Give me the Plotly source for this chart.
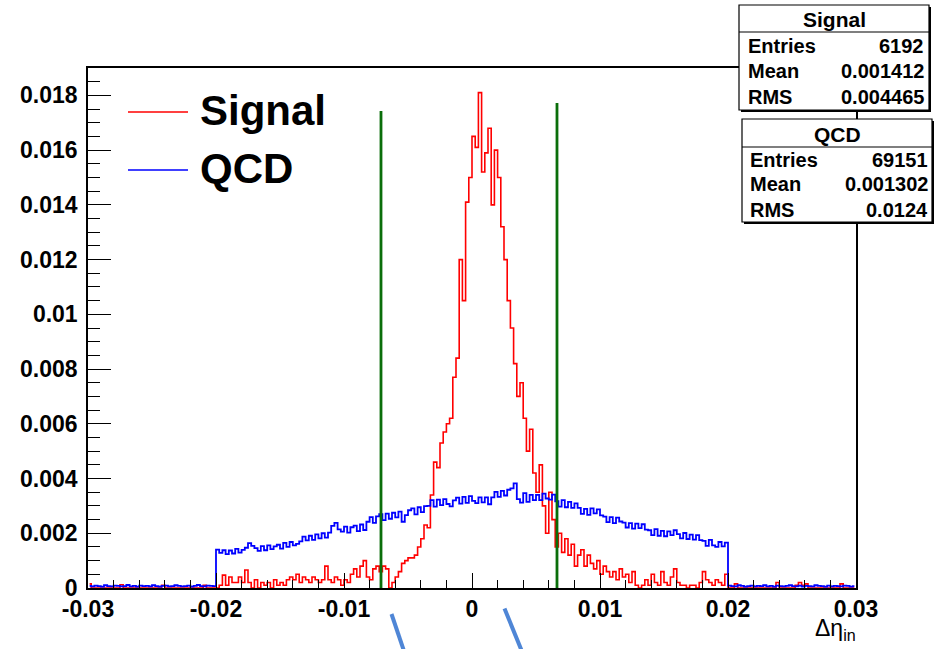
import numpy as np
import plotly.graph_objects as go

# ---------------- data ----------------
x_min, x_max, n_bins = -0.03, 0.03, 240

signal_vals = [
    0.00015,0,0,0,0,0,0,0,0,0, 0.00012,0,0,0,0,0,0,0,0,0,
    0,0,0,0.00010,0,0,0,0,0,0, 0,0,0,0,0,0,0.00010,0,0,0,
    0,0.00010,0.00047,0.00010,0.00040,0.00020,0.00020,0.00040,0.00020,0.00066,
    0.00020,0,0.00030,0,0.00020,0.00010,0.00020,0,0.00030,0.00010,
    0.00020,0.00010,0.00030,0.00040,0.00030,0.00050,0.00020,0.00040,0.00030,0.00020,
    0.00040,0.00030,0.00020,0.00030,0.00080,0.00030,0.00020,0.00040,0.00030,0.00010,
    0.00030,0.00020,0.00050,0.00070,0.00040,0.00080,0.00100,0.00040,0.00030,0.00070,
    0.00080,0.00060,0.00080,0.00070,0,0.00020,0.00040,0.00060,0.00090,0.00100,
    0.00110,0.00110,0.00120,0.00150,0.00180,0.00230,0.00220,0.00340,0.00460,0.00440,
    0.00530,0.00570,0.00600,0.00620,0.00770,0.00840,0.01200,0.01050,0.01410,0.01500,
    0.01650,0.01610,0.01810,0.01520,0.01590,0.01680,0.01400,0.01600,0.01500,0.01320,
    0.01200,0.01050,0.00950,0.00820,0.00700,0.00750,0.00620,0.00500,0.00580,0.00420,
    0.00350,0.00450,0.00300,0.00200,0.00350,0.00250,0.00150,0.00200,0.00130,0.00180,
    0.00120,0.00160,0.00080,0.00120,0.00140,0.00080,0.00120,0.00090,0.00070,0.00100,
    0.00050,0.00080,0.00060,0.00040,0.00060,0.00030,0.00070,0.00040,0.00050,0.00020,
    0.00060,0.00010,0,0.00010,0.00030,0.00010,0.00050,0.00020,0.00010,0.00060,
    0.00020,0.00010,0.00040,0.00070,0.00020,0.00010,0.00010,0,0.00010,0.00010,
    0,0.00020,0.00060,0.00030,0.00020,0.00010,0.00030,0.00020,0.00010,0.00050,
    0,0,0.00015,0,0,0,0,0,0,0, 0,0,0,0,0,0.00020,0,0,0,0,
    0,0.00010,0.00020,0.00010,0.00015,0,0,0,0,0, 0,0,0,0,0,0.00015,0,0,0,0,
]

qcd_vals = [
    0.00008,0.00006,0.00009,0.00007,0.00005,0.00010,0.00007,0.00006,0.00009,0.00008,
    0.00006,0.00007,0.00011,0.00006,0.00008,0.00005,0.00009,0.00007,0.00008,0.00006,
    0.00010,0.00007,0.00005,0.00008,0.00009,0.00006,0.00007,0.00010,0.00008,0.00006,
    0.00007,0.00009,0.00005,0.00008,0.00011,0.00007,0.00006,0.00009,0.00008,0.00007,
    0.00140,0.00128,0.00138,0.00124,0.00137,0.00126,0.00143,0.00129,0.00139,0.00147,
    0.00164,0.00154,
    0.00146,0.00136,0.00153,0.00138,0.00156,0.00142,0.00152,0.00158,0.00144,
    0.00165,0.00150,0.00168,0.00156,0.00161,
    0.00170,0.00188,0.00174,0.00191,0.00176,
    0.00196,0.00181,0.00200,0.00184,0.00202,
    0.00227,0.00238,0.00214,
    0.00206,0.00224,0.00202,0.00222,0.00228,0.00208,0.00232,0.00212,
    0.00242,0.00259,0.00238,0.00262,
    0.00270,0.00248,0.00272,0.00253,0.00275,0.00258,
    0.00279,0.00242,0.00266,0.00284,
    0.00291,0.00269,0.00295,0.00277,0.00299,
    0.00300,0.00321,0.00297,0.00323,0.00303,0.00325,0.00307,0.00298,
    0.00320,0.00330,0.00308,0.00333,0.00311,0.00336,0.00318,0.00310,
    0.00331,0.00313,0.00331,0.00306,
    0.00331,0.00351,0.00333,0.00355,0.00338,0.00359,0.00364,0.00382,
    0.00325,0.00312,0.00347,0.00315,0.00340,0.00321,
    0.00340,0.00321,0.00345,0.00327,0.00323,0.00341,
    0.00317,0.00297,0.00321,0.00295,0.00315,0.00293,0.00309,
    0.00293,0.00271,0.00289,0.00267,0.00291,0.00273,0.00287,0.00265,
    0.00261,0.00241,0.00259,0.00237,0.00257,0.00243,
    0.00239,0.00221,0.00237,0.00217,0.00235,0.00219,0.00233,0.00213,
    0.00211,0.00193,0.00215,0.00191,0.00209,0.00189,0.00207,0.00193,0.00211,
    0.00197,0.00181,0.00201,0.00179,0.00195,0.00177,0.00193,0.00175,
    0.00172,0.00154,0.00176,0.00156,0.00150,0.00168,0.00152,0.00166,
    0.00009,0.00007,0.00006,0.00010,0.00008,0.00005,0.00007,0.00009,0.00006,0.00008,
    0.00007,0.00010,0.00006,0.00008,0.00005,0.00009,0.00007,0.00006,0.00008,0.00010,
    0.00007,0.00006,0.00009,0.00005,0.00008,0.00007,0.00006,0.00010,0.00008,0.00007,
    0.00005,0.00009,0.00006,0.00008,0.00007,0.00006,0.00009,0.00008,0.00005,0.00007,
]

cut_x = [-0.00711, 0.00664]
cut_top = [0.01743, 0.01772]

x_tickvals = [-0.03, -0.02, -0.01, 0, 0.01, 0.02, 0.03]
x_ticktext = ["-0.03", "-0.02", "-0.01", "0", "0.01", "0.02", "0.03"]
y_tickvals = [0, 0.002, 0.004, 0.006, 0.008, 0.01, 0.012, 0.014, 0.016, 0.018]
y_ticktext = ["0", "0.002", "0.004", "0.006", "0.008", "0.01", "0.012", "0.014", "0.016", "0.018"]

stats_signal = [("Entries", "6192"), ("Mean", "0.001412"), ("RMS", "0.004465")]
stats_qcd = [("Entries", "69151"), ("Mean", "0.001302"), ("RMS", "0.0124")]

# ---------------- geometry ----------------
W, H = 937, 649
L, R, T, B = 88, 81, 68, 61
PW, PH = W - L - R, H - T - B

def px(xp):
    return (xp - L) / PW

def py(yp):
    return (H - B - yp) / PH

edges = np.linspace(x_min, x_max, n_bins + 1)
centers = 0.5 * (edges[:-1] + edges[1:])

FONT = "Liberation Sans, Arial, Helvetica, sans-serif"

fig = go.Figure()
fig.add_trace(go.Scatter(x=centers, y=signal_vals, mode="lines", line_shape="hvh",
                         line=dict(color="#ff0000", width=1.6), name="Signal", showlegend=False))
fig.add_trace(go.Scatter(x=centers, y=qcd_vals, mode="lines", line_shape="hvh",
                         line=dict(color="#0000ff", width=1.8), name="QCD", showlegend=False))
for cx, ct in zip(cut_x, cut_top):
    fig.add_trace(go.Scatter(x=[cx, cx], y=[0, ct], mode="lines",
                             line=dict(color="#0a6e0a", width=2.8), showlegend=False, hoverinfo="skip"))

shapes = []
annotations = []

# legend (manual)
for ycen, col, label in [(112, "#ff0000", "Signal"), (170, "#0000ff", "QCD")]:
    shapes.append(dict(type="line", xref="paper", yref="paper", x0=px(128), x1=px(188),
                       y0=py(ycen), y1=py(ycen), line=dict(color=col, width=1.5)))
    annotations.append(dict(xref="paper", yref="paper", x=px(198), y=py(ycen - 2), text=label,
                            showarrow=False, xanchor="left", yanchor="middle",
                            font=dict(family=FONT, size=42, color="black", weight="bold")))

# stat boxes
def stat_box(x0, x1, y0, y1, ysep, title, rows, row_y, xl, xr):
    shapes.append(dict(type="rect", xref="paper", yref="paper", layer="above",
                       x0=px(x0 + 2), x1=px(x1 + 2), y0=py(y1 + 2), y1=py(y0 + 2),
                       fillcolor="black", line=dict(width=0)))
    shapes.append(dict(type="rect", xref="paper", yref="paper", layer="above",
                       x0=px(x0), x1=px(x1), y0=py(y1), y1=py(y0),
                       fillcolor="white", line=dict(color="black", width=1.2)))
    shapes.append(dict(type="line", xref="paper", yref="paper", layer="above",
                       x0=px(x0), x1=px(x1), y0=py(ysep), y1=py(ysep),
                       line=dict(color="black", width=1.2)))
    annotations.append(dict(xref="paper", yref="paper", x=px((x0 + x1) / 2), y=py((y0 + ysep) / 2 + 1),
                            text=title, showarrow=False, xanchor="center", yanchor="middle",
                            font=dict(family=FONT, size=21, color="black", weight="bold")))
    for (k, v), yy in zip(rows, row_y):
        annotations.append(dict(xref="paper", yref="paper", x=px(xl), y=py(yy), text=k,
                                showarrow=False, xanchor="left", yanchor="middle",
                                font=dict(family=FONT, size=20, color="black", weight="bold")))
        annotations.append(dict(xref="paper", yref="paper", x=px(xr), y=py(yy), text=v,
                                showarrow=False, xanchor="right", yanchor="middle",
                                font=dict(family=FONT, size=20, color="black", weight="bold")))

stat_box(739, 929, 5, 110, 32, "Signal", stats_signal, [46, 71, 97], 746, 926)
stat_box(742, 932, 119, 222, 147, "QCD", stats_qcd, [160, 184, 210], 748, 930)

# x-axis title
annotations.append(dict(xref="paper", yref="paper", x=px(858), y=py(613), text="Δη<sub>in</sub>",
                        showarrow=False, xanchor="right", yanchor="top",
                        font=dict(family=FONT, size=23, color="black")))

# hand-drawn blue strokes below the axis
for (xa, ya, xb, yb) in [(391.5, 614, 405, 654), (504.5, 608.5, 523, 654)]:
    shapes.append(dict(type="line", xref="paper", yref="paper", x0=px(xa), y0=py(ya),
                       x1=px(xb), y1=py(yb), line=dict(color="#4f86d6", width=4)))

fig.update_layout(
    width=W, height=H, margin=dict(l=L, r=R, t=T, b=B),
    paper_bgcolor="white", plot_bgcolor="white",
    shapes=shapes, annotations=annotations, showlegend=False,
    xaxis=dict(range=[x_min, x_max], showgrid=False, zeroline=False,
               showline=True, linecolor="black", linewidth=1.5, mirror=True,
               ticks="inside", ticklen=15, tickwidth=1, tickcolor="black",
               tickmode="array", tickvals=x_tickvals, ticktext=x_ticktext,
               ticklabelstandoff=0,
               tickfont=dict(family=FONT, size=23, color="black", weight="bold"),
               minor=dict(tickmode="linear", tick0=0, dtick=0.002, ticks="inside",
                          ticklen=8, tickcolor="black", showgrid=False)),
    yaxis=dict(range=[0, 0.019], showgrid=False, zeroline=False,
               showline=True, linecolor="black", linewidth=1.5, mirror=True,
               ticks="inside", ticklen=23, tickwidth=1, tickcolor="black",
               tickmode="array", tickvals=y_tickvals, ticktext=y_ticktext,
               ticklabelstandoff=4,
               tickfont=dict(family=FONT, size=23, color="black", weight="bold"),
               minor=dict(tickmode="linear", tick0=0, dtick=0.0005, ticks="inside",
                          ticklen=12, tickcolor="black", showgrid=False)),
)

fig.write_html("out.html", config={"displayModeBar": False},
               post_script="document.body.style.margin='0';document.body.style.padding='0';document.body.style.overflow='hidden';")
